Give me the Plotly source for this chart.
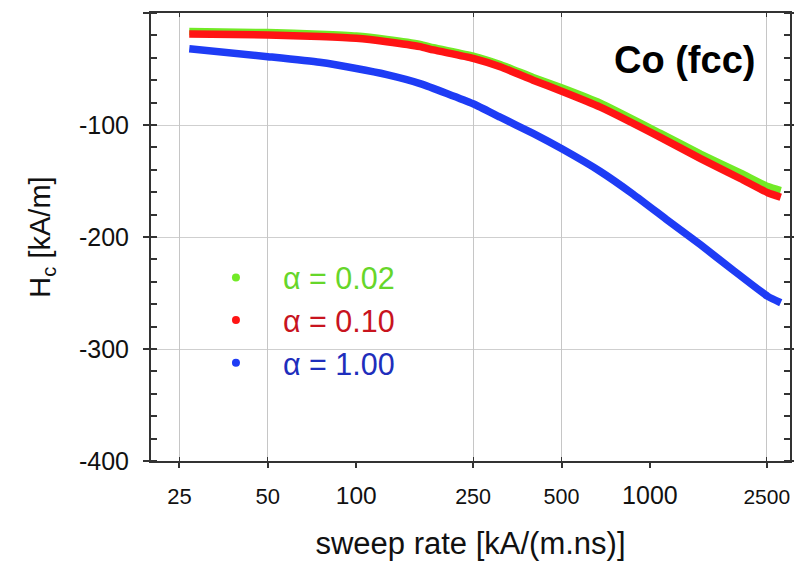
import math
import plotly.graph_objects as go

# ---- data ----
rate_fast = [27, 50, 75, 100, 127, 165, 183, 250, 309, 400, 503, 678, 1086, 1488, 2038, 2520, 2790]
hc_alpha_002 = [-16.5, -17.5, -19, -20.6, -23.6, -28, -31, -38.5, -46, -57.5, -67, -80.5, -107.5, -126, -143, -155, -158.5]
hc_alpha_010 = [-18.7, -19.6, -21, -22.6, -25.6, -30, -33, -40.5, -48, -60, -70, -84, -111, -130, -148, -160.5, -164.5]

rate_slow = [27, 50, 75, 100, 127, 165, 250, 309, 400, 503, 678, 879, 1148, 1488, 1929, 2520, 2790]
hc_alpha_100 = [-32, -39, -44, -49.5, -55, -63, -81, -93, -107.5, -121.5, -141.5, -162, -185, -207, -230, -253, -258.7]

series_names = ["α = 0.02", "α = 0.10", "α = 1.00"]
line_colors = ["#72ea26", "#ff1414", "#1e3cf5"]
text_colors = ["#66d62a", "#c8141e", "#1e2ebc"]

x_tick_vals = [25, 50, 100, 250, 500, 1000, 2500]
x_tick_sizes = [22, 22, 24.5, 21.5, 21.5, 25, 21]
x_grid_vals = [25, 50, 250, 500, 2500]
y_tick_vals = [0, -100, -200, -300, -400]
y_tick_text = ["0", "-100", "-200", "-300", "-400"]

fig = go.Figure()

for xs, ys, col in [(rate_slow, hc_alpha_100, line_colors[2]),
                    (rate_fast, hc_alpha_002, line_colors[0]),
                    (rate_fast, hc_alpha_010, line_colors[1])]:
    fig.add_trace(go.Scatter(x=xs, y=ys, mode="lines",
                             line=dict(color=col, width=7.5, shape="spline", smoothing=0.5),
                             showlegend=False, hoverinfo="skip"))

for i, (nm, lc, tc) in enumerate(zip(series_names, line_colors, text_colors)):
    fig.add_trace(go.Scatter(x=[None], y=[None], mode="markers",
                             marker=dict(color=lc, size=8),
                             name=f'<span style="color:{tc}">\u00a0\u00a0{nm}</span>',
                             legendgroup=f"g{i}", showlegend=True))

# helper trace so the grid-only overlay x axis is drawn
fig.add_trace(go.Scatter(x=[None], y=[None], xaxis="x2", showlegend=False, hoverinfo="skip"))

ticktext = [f'<span style="font-size:{s}px">{v}</span>' for v, s in zip(x_tick_vals, x_tick_sizes)]

font_family = "Liberation Sans, Arial, sans-serif"
xrange = [math.log10(20), math.log10(3000)]
y_range = [min(y_tick_vals), max(y_tick_vals)]

fig.update_layout(
    width=794, height=569,
    margin=dict(l=151, r=4, t=13, b=108),
    paper_bgcolor="white", plot_bgcolor="rgba(0,0,0,0)",
    font=dict(family=font_family, color="#111111"),
    showlegend=True,
    legend=dict(x=0.086, y=0.4685, xanchor="left", yanchor="top",
                font=dict(size=30.5, family=font_family),
                bgcolor="rgba(0,0,0,0)", tracegroupgap=9, itemwidth=50,
                traceorder="normal"),
    xaxis=dict(type="log", range=xrange, automargin=False,
               tickmode="array", tickvals=x_tick_vals, ticktext=ticktext,
               tickfont=dict(size=24, color="#111111"),
               ticks="outside", ticklen=5, tickwidth=1.5, tickcolor="#333",
               ticklabelstandoff=7,
               showgrid=False, zeroline=False,
               showline=True, linecolor="#333", linewidth=2, mirror=True,
               title=dict(text="sweep rate [kA/(m.ns)]", font=dict(size=31), standoff=25)),
    xaxis2=dict(type="log", range=xrange, overlaying="x", anchor="y", side="bottom",
                automargin=False, tickmode="array", tickvals=x_grid_vals,
                showticklabels=False, showgrid=True, gridcolor="#c6c6c6", gridwidth=1,
                ticks="inside", ticklen=4, tickcolor="#333", mirror="ticks",
                showline=False, zeroline=False),
    yaxis=dict(range=y_range, automargin=False, tickmode="array",
               tickvals=y_tick_vals, ticktext=y_tick_text,
               tickfont=dict(size=25, color="#111111"),
               ticks="outside", ticklen=6, tickwidth=1.5, tickcolor="#333",
               ticklabelstandoff=9,
               showgrid=True, gridcolor="#cfcfcf", gridwidth=1, zeroline=False,
               showline=True, linecolor="#333", linewidth=2, mirror="allticks",
               minor=dict(dtick=20, ticks="inside", ticklen=4, tickcolor="#333", showgrid=False),
               title=dict(text="H<sub>c</sub> [kA/m]", font=dict(size=29), standoff=20)),
    annotations=[dict(text="<b>Co (fcc)</b>", xref="paper", yref="paper",
                      x=0.835, y=0.895, xanchor="center", yanchor="middle",
                      showarrow=False, font=dict(size=38, color="#000"))],
)

fig.write_html("out.html")
